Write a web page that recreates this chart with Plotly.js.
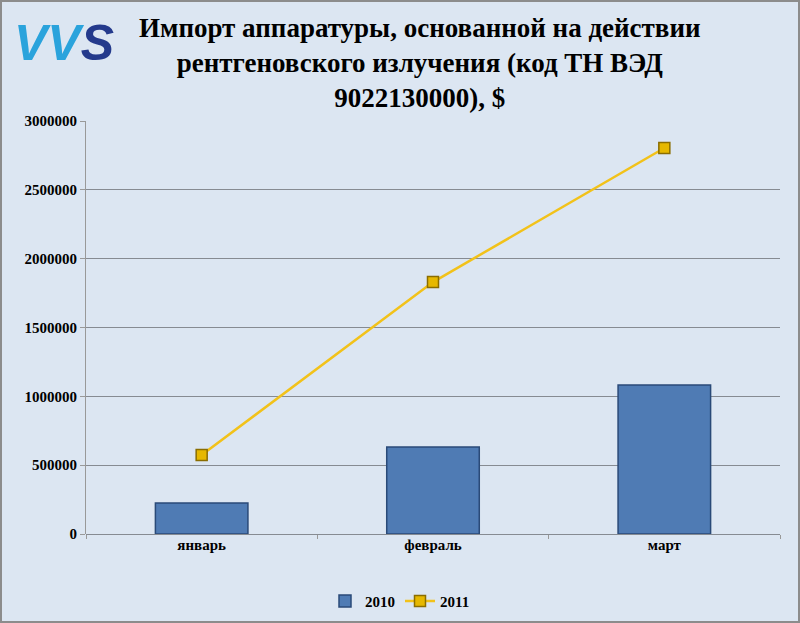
<!DOCTYPE html>
<html><head><meta charset="utf-8">
<script src="https://cdn.plot.ly/plotly-3.0.1.min.js"></script>
<style>html,body{margin:0;padding:0;background:#dce6f2;}#chart{width:800px;height:623px;}</style>
</head><body><div id="chart"></div>
<script>
const categories = ["январь", "февраль", "март"];
const values2010 = [225000, 632000, 1082000];
const values2011 = [574000, 1830000, 2804000];
const seriesNames = ["2010", "2011"];
const titleText = "<b>Импорт аппаратуры, основанной на действии<br>рентгеновского излучения (код ТН ВЭД<br>9022130000), $</b>";

const font = "'Liberation Serif', 'Times New Roman', serif";

const traces = [
  {type: "bar", name: seriesNames[0], x: categories, y: values2010,
   marker: {color: "#4f7bb4", line: {color: "#2a4a78", width: 1.5}}},
  {type: "scatter", mode: "lines+markers", name: seriesNames[1], x: categories, y: values2011,
   line: {color: "#f2c21a", width: 2.5},
   marker: {symbol: "square", size: 11, color: "#e6b800", line: {color: "#8a6d00", width: 1.5}}}
];

const W = 694, H = 413;
const layout = {
  width: 800, height: 623,
  paper_bgcolor: "#dce6f2", plot_bgcolor: "#dce6f2",
  margin: {l: 86, r: 20, t: 121, b: 89, autoexpand: false},
  bargap: 0.6,
  font: {family: font, color: "#000"},
  xaxis: {showgrid: false, showline: false, tickson: "boundaries", ticks: "outside", ticklen: 4, tickcolor: "#999",
          tickfont: {family: font, size: 15, color: "#000", weight: "bold"}, zeroline: false},
  yaxis: {range: [0, 3000000], dtick: 500000, showgrid: true, gridcolor: "#868b92", gridwidth: 1,
          showline: true, linecolor: "#999", ticks: "outside", ticklen: 5, tickcolor: "#999",
          tickfont: {family: font, size: 15, color: "#000", weight: "bold"}, tickformat: "d",
          zeroline: true, zerolinecolor: "#868b92"},
  legend: {orientation: "h", x: 0.5, xanchor: "center", xref: "container", yref: "container", y: 0.035, yanchor: "middle",
           font: {family: font, size: 15, weight: "bold"}, bgcolor: "rgba(0,0,0,0)"},
  annotations: [
    {xref: "paper", yref: "paper", x: (420 - 86) / W, y: 1 + (121 - 63) / H, xanchor: "center", yanchor: "middle", showarrow: false,
     text: titleText, align: "center", font: {family: font, size: 27, color: "#000"}},
    {xref: "paper", yref: "paper", x: (12 - 86) / W, y: 1 + (121 - 43) / H, xanchor: "left", yanchor: "middle", showarrow: false,
     text: "<i><b><span style='color:#2aa3dc'>VV</span><span style='color:#243a8c'>S</span></b></i>",
     font: {family: "'Liberation Sans', Arial, sans-serif", size: 50}}
  ],
  shapes: [
    {type: "rect", xref: "paper", yref: "paper", x0: (1 - 86) / W, x1: 1 + (19 / W), y0: -(88 / H), y1: 1 + (120 / H),
     line: {color: "#8c8c8c", width: 2}, fillcolor: "rgba(0,0,0,0)", layer: "below"}
  ]
};

Plotly.newPlot("chart", traces, layout, {displayModeBar: false});
</script></body></html>
